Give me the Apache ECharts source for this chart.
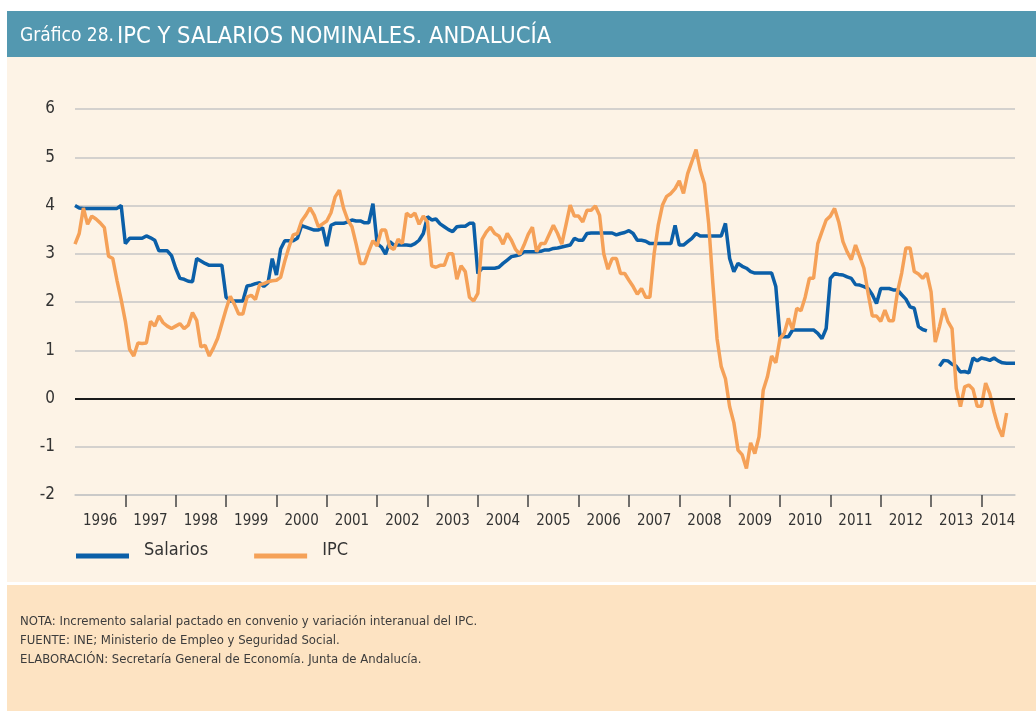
<!DOCTYPE html>
<html>
<head>
<meta charset="utf-8">
<title>IPC y salarios nominales. Andalucía</title>
<script src="https://cdn.jsdelivr.net/npm/echarts@6/dist/echarts.min.js"></script>
<style>
  html, body { margin: 0; padding: 0; background: #ffffff; }
  #chart { width: 1036px; height: 711px; }
</style>
</head>
<body>
<div id="chart"></div>
<script>
// años del eje (serie mensual ene-1996 a sep-2014)
const years = ['1996', '1997', '1998', '1999', '2000', '2001', '2002', '2003', '2004',
  '2005', '2006', '2007', '2008', '2009', '2010', '2011', '2012', '2013', '2014'];
const lastMonth = 9; // septiembre 2014

// incremento salarial pactado en convenio (%)
const salarios = [
  4.0, 3.95, 3.94, 3.94, 3.94, 3.94, 3.94, 3.94, 3.94, 3.94, 3.94, 4.0,
  3.21, 3.32, 3.32, 3.32, 3.32, 3.37, 3.33, 3.28, 3.06, 3.06, 3.06, 2.96,
  2.7, 2.49, 2.47, 2.43, 2.42, 2.9, 2.85, 2.8, 2.76, 2.76, 2.76, 2.76,
  2.1, 2.02, 2.02, 2.02, 2.02, 2.33, 2.35, 2.38, 2.4, 2.32, 2.4, 2.9,
  2.56, 3.1, 3.27, 3.27, 3.27, 3.32, 3.58, 3.55, 3.52, 3.49, 3.49, 3.54,
  3.16, 3.59, 3.63, 3.63, 3.63, 3.66, 3.70, 3.68, 3.68, 3.64, 3.64, 4.04,
  3.21, 3.14, 2.99, 3.25, 3.18, 3.18, 3.18, 3.18, 3.17, 3.21, 3.28, 3.42,
  3.77, 3.70, 3.72, 3.62, 3.56, 3.5, 3.46, 3.56, 3.57, 3.57, 3.63, 3.63,
  2.59, 2.7, 2.7, 2.7, 2.7, 2.72, 2.8, 2.87, 2.94, 2.96, 2.98, 3.04,
  3.04, 3.04, 3.04, 3.05, 3.08, 3.08, 3.11, 3.12, 3.14, 3.16, 3.18, 3.32,
  3.28, 3.28, 3.42, 3.43, 3.43, 3.43, 3.43, 3.43, 3.43, 3.39, 3.42, 3.44,
  3.48, 3.42, 3.28, 3.28, 3.26, 3.21, 3.21, 3.21, 3.21, 3.21, 3.21, 3.59,
  3.18, 3.18, 3.25, 3.32, 3.42, 3.37, 3.37, 3.37, 3.37, 3.37, 3.37, 3.63,
  2.9, 2.63, 2.8, 2.74, 2.7, 2.63, 2.6, 2.6, 2.6, 2.6, 2.6, 2.32,
  1.28, 1.28, 1.28, 1.42, 1.42, 1.42, 1.42, 1.42, 1.42, 1.35, 1.24, 1.45,
  2.49, 2.59, 2.57, 2.56, 2.52, 2.49, 2.36, 2.35, 2.32, 2.28, 2.15, 1.97,
  2.28, 2.28, 2.28, 2.25, 2.25, 2.15, 2.06, 1.9, 1.87, 1.49, 1.43, 1.4,
  null, null, 0.67, 0.79, 0.78, 0.71, 0.67, 0.55, 0.56, 0.53, 0.84, 0.78,
  0.84, 0.82, 0.79, 0.84, 0.78, 0.74, 0.73, 0.73, 0.73
];

// variación interanual del IPC (%)
const ipc = [
  3.2, 3.42, 3.95, 3.61, 3.78, 3.72, 3.64, 3.54, 2.95, 2.9, 2.45, 2.05,
  1.6, 1.02, 0.88, 1.15, 1.14, 1.15, 1.6, 1.5, 1.71, 1.57, 1.5, 1.45,
  1.5, 1.55, 1.45, 1.52, 1.78, 1.62, 1.07, 1.1, 0.88, 1.05, 1.25, 1.55,
  1.85, 2.12, 1.95, 1.75, 1.75, 2.1, 2.14, 2.05, 2.36, 2.38, 2.42, 2.44,
  2.45, 2.51, 2.85, 3.14, 3.39, 3.42, 3.68, 3.8, 3.95, 3.8, 3.56, 3.62,
  3.68, 3.85, 4.18, 4.32, 3.94, 3.7, 3.56, 3.2, 2.8, 2.8, 3.05, 3.27,
  3.16, 3.49, 3.49, 3.14, 3.09, 3.3, 3.21, 3.84, 3.77, 3.84, 3.61, 3.78,
  3.66, 2.75, 2.72, 2.76, 2.76, 3.0, 3.0, 2.47, 2.75, 2.63, 2.1, 2.02,
  2.18, 3.3, 3.45, 3.55, 3.42, 3.37, 3.2, 3.42, 3.28, 3.09, 2.99, 3.18,
  3.4, 3.55, 3.04, 3.21, 3.21, 3.4, 3.59, 3.42, 3.2, 3.6, 4.01, 3.78,
  3.78, 3.66, 3.9, 3.9, 3.99, 3.8, 3.0, 2.68, 2.9, 2.9, 2.59, 2.59,
  2.45, 2.32, 2.16, 2.28, 2.1, 2.1, 3.0, 3.6, 4.01, 4.19, 4.25, 4.35,
  4.51, 4.25, 4.66, 4.91, 5.16, 4.73, 4.45, 3.63, 2.38, 1.24, 0.66, 0.41,
  -0.17, -0.5, -1.07, -1.17, -1.45, -0.92, -1.14, -0.79, 0.17, 0.45, 0.88, 0.74,
  1.24, 1.35, 1.66, 1.43, 1.87, 1.82, 2.1, 2.49, 2.49, 3.21, 3.46, 3.70,
  3.78, 3.94, 3.66, 3.25, 3.04, 2.88, 3.18, 2.94, 2.7, 2.18, 1.71, 1.71,
  1.6, 1.83, 1.61, 1.61, 2.21, 2.6, 3.12, 3.12, 2.63, 2.58, 2.49, 2.6,
  2.21, 1.17, 1.49, 1.87, 1.6, 1.45, 0.21, -0.17, 0.24, 0.28, 0.19, -0.16,
  -0.16, 0.32, 0.1, -0.28, -0.59, -0.79, -0.3, null, null
];

const notas = [
  'NOTA: Incremento salarial pactado en convenio y variación interanual del IPC.',
  'FUENTE: INE; Ministerio de Empleo y Seguridad Social.',
  'ELABORACIÓN: Secretaría General de Economía. Junta de Andalucía.'
];

// categorías mensuales "AAAA-MM"
const meses = [];
years.forEach((y, k) => {
  const n = k === years.length - 1 ? lastMonth : 12;
  for (let m = 1; m <= n; m++) meses.push(y + '-' + (m < 10 ? '0' + m : m));
});

const FONT = '"Liberation Sans Narrow", "DejaVu Sans Condensed", "Roboto", sans-serif';
const AZUL = '#0b5fa8';
const NARANJA = '#f5a158';

const chart = echarts.init(document.getElementById('chart'), null, { renderer: 'canvas' });

chart.setOption({
  backgroundColor: '#ffffff',
  animation: false,
  textStyle: { fontFamily: FONT },
  graphic: [
    // cabecera
    { type: 'rect', z: -10, shape: { x: 7, y: 11, width: 1029, height: 46 }, style: { fill: '#5398b0' } },
    { type: 'text', left: 20, top: 27, style: { text: 'Gráfico 28.', fill: '#ffffff', font: '19px ' + FONT } },
    { type: 'text', left: 117, top: 25, style: { text: 'IPC Y SALARIOS NOMINALES. ANDALUCÍA', fill: '#ffffff', font: '23.5px ' + FONT } },
    // fondo del gráfico
    { type: 'rect', z: -10, shape: { x: 7, y: 57, width: 1029, height: 525 }, style: { fill: '#fdf3e6' } },
    // pie con notas
    { type: 'rect', z: -10, shape: { x: 7, y: 585, width: 1029, height: 126 }, style: { fill: '#fde3c2' } },
    { type: 'text', left: 20, top: 612, style: { text: notas.join('\n'), fill: '#3c3c3c', font: '13px ' + FONT, lineHeight: 19 } }
  ],
  legend: {
    left: 76,
    top: 541,
    padding: 0,
    // línea desplazada hacia abajo respecto al texto, como en el original
    icon: 'path://M0,0L53,0L53,0.01L0,0.01ZM0,12L53,12L53,17L0,17Z',
    itemWidth: 53,
    itemHeight: 17,
    itemGap: 46,
    textStyle: { fontSize: 18, color: '#333333', fontFamily: FONT, padding: [0, 0, 0, 10] },
    data: ['Salarios', 'IPC']
  },
  grid: { left: 75, right: 21, top: 109, bottom: 216, containLabel: false },
  xAxis: {
    type: 'category',
    data: meses,
    boundaryGap: false,
    axisLine: { onZero: false, lineStyle: { color: '#c6c6c6', width: 1.5 } },
    axisTick: {
      length: 12,
      lineStyle: { color: '#444444', width: 1.5 },
      interval: (i) => i > 0 && i % 12 === 0
    },
    axisLabel: {
      color: '#333333',
      fontSize: 15,
      fontFamily: FONT,
      margin: 19,
      interval: (i) => (i % 12 === 6 && i < 216) || i === 220,
      formatter: (v) => v.slice(0, 4)
    },
    splitLine: { show: false }
  },
  yAxis: {
    type: 'value',
    min: -2,
    max: 6,
    interval: 1,
    axisLine: { show: false },
    axisTick: { show: false },
    axisLabel: { color: '#333333', fontSize: 17, fontFamily: FONT, margin: 20 },
    splitLine: { lineStyle: { color: '#c6c6c6', width: 1.5 } }
  },
  series: [
    {
      name: 'Salarios',
      type: 'line',
      data: salarios,
      showSymbol: false,
      connectNulls: false,
      lineStyle: { color: AZUL, width: 3.5 },
      itemStyle: { color: AZUL },
      markLine: {
        silent: true,
        symbol: 'none',
        label: { show: false },
        lineStyle: { color: '#1a1a1a', width: 2, type: 'solid' },
        data: [{ yAxis: 0 }]
      },
      z: 3
    },
    {
      name: 'IPC',
      type: 'line',
      data: ipc,
      showSymbol: false,
      lineStyle: { color: NARANJA, width: 3.5 },
      itemStyle: { color: NARANJA },
      z: 4
    }
  ]
});
</script>
</body>
</html>
